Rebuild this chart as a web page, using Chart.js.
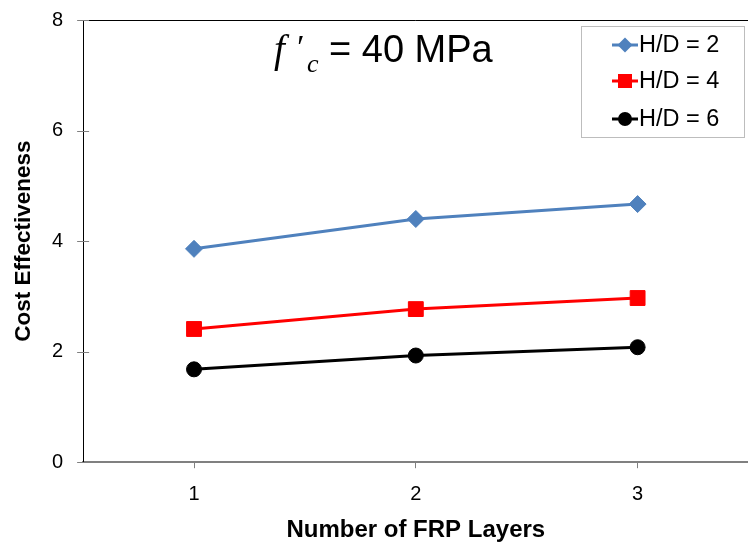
<!DOCTYPE html>
<html><head><meta charset="utf-8">
<script src="https://cdn.jsdelivr.net/npm/chart.js@4/dist/chart.umd.min.js"></script>
<style>
html,body{margin:0;padding:0;overflow:hidden;background:#fff;width:748px;height:542px}
#wrap{position:relative;width:760px;height:542px}
canvas{display:block}
</style></head>
<body><div id="wrap"><canvas id="c" width="760" height="542"></canvas></div>
<script>
const layers = ['1', '2', '3'];
const hd2 = [3.86, 4.40, 4.67];
const hd4 = [2.41, 2.77, 2.97];
const hd6 = [1.68, 1.93, 2.08];
const seriesLabels = ['H/D = 2', 'H/D = 4', 'H/D = 6'];
const yMin = 0, yMax = 8, yStep = 2;

const FONT = "'Liberation Sans', Arial, sans-serif";

const decor = {
  id: 'decor',
  afterDraw(chart) {
    const ctx = chart.ctx, a = chart.chartArea, ys = chart.scales.y;
    ctx.save();
    ctx.strokeStyle = '#000'; ctx.lineWidth = 1;
    ctx.beginPath(); ctx.moveTo(a.left, a.top + 0.5); ctx.lineTo(a.right, a.top + 0.5); ctx.stroke();
    // y tick marks crossing the axis
    ctx.strokeStyle = '#808080';
    ys.ticks.forEach(t => {
      const py = Math.round(ys.getPixelForValue(t.value)) + 0.5;
      ctx.beginPath(); ctx.moveTo(a.left - 6, py); ctx.lineTo(a.left + 6, py); ctx.stroke();
    });
    ctx.fillStyle = '#000';
    ctx.textBaseline = 'alphabetic'; ctx.textAlign = 'left';
    ctx.font = "italic 39px 'Liberation Serif', serif";
    ctx.fillText('f', 274, 62);
    ctx.font = "italic 34px 'Liberation Serif', serif";
    ctx.fillText('\u2032', 295, 58);
    ctx.font = "italic 26px 'Liberation Serif', serif";
    ctx.fillText('c', 307, 72);
    ctx.font = "38px " + FONT;
    ctx.fillText('= 40 MPa', 329, 62);
    const bx = 581, by = 26, bw = 163, bh = 111;
    ctx.fillStyle = '#fff'; ctx.fillRect(bx, by, bw, bh);
    ctx.strokeStyle = '#bdbdbd'; ctx.lineWidth = 1;
    ctx.strokeRect(bx + 0.5, by + 0.5, bw, bh);
    const rows = [45, 81, 119];
    chart.data.datasets.forEach((ds, i) => {
      const y = rows[i], c = ds.borderColor;
      ctx.strokeStyle = c; ctx.lineWidth = 3;
      ctx.beginPath(); ctx.moveTo(612, y); ctx.lineTo(638, y); ctx.stroke();
      ctx.fillStyle = c;
      const cx = 625;
      ctx.beginPath();
      if (ds.pointStyle === 'rectRot') {
        ctx.moveTo(cx - 7.5, y); ctx.lineTo(cx, y - 7.5); ctx.lineTo(cx + 7.5, y); ctx.lineTo(cx, y + 7.5); ctx.closePath();
      } else if (ds.pointStyle === 'rect') {
        ctx.rect(cx - 7, y - 7, 14, 14);
      } else {
        ctx.arc(cx, y, 7, 0, Math.PI * 2);
      }
      ctx.fill();
      ctx.fillStyle = '#000';
      ctx.font = "23.5px " + FONT;
      ctx.textBaseline = 'middle';
      ctx.fillText(ds.label, 639, y + 1);
    });
    ctx.restore();
  }
};

new Chart(document.getElementById('c'), {
  type: 'line',
  data: {
    labels: layers,
    datasets: [
      { label: seriesLabels[0], data: hd2, borderColor: '#4F81BD', backgroundColor: '#4F81BD',
        pointStyle: 'rectRot', pointRadius: 8.5, pointHoverRadius: 8.5, pointBorderWidth: 1, borderWidth: 3 },
      { label: seriesLabels[1], data: hd4, borderColor: '#FF0000', backgroundColor: '#FF0000',
        pointStyle: 'rect', pointRadius: 10.5, pointHoverRadius: 10.5, pointBorderWidth: 1, borderWidth: 3 },
      { label: seriesLabels[2], data: hd6, borderColor: '#000000', backgroundColor: '#000000',
        pointStyle: 'circle', pointRadius: 7.5, pointHoverRadius: 7.5, pointBorderWidth: 1, borderWidth: 3 }
    ]
  },
  options: {
    responsive: false, maintainAspectRatio: false, animation: false, devicePixelRatio: 1,
    layout: { padding: { left: 10, top: 8, right: 2, bottom: 0 } },
    plugins: { legend: { display: false }, tooltip: { enabled: false } },
    scales: {
      x: {
        type: 'category', offset: true,
        grid: { offset: false, drawOnChartArea: false, drawTicks: true, tickLength: 6, color: '#808080' },
        border: { color: '#808080', width: 2 },
        ticks: { color: '#000', font: { family: FONT, size: 20 }, padding: 14 },
        title: { display: true, text: 'Number of FRP Layers', color: '#000',
          font: { family: FONT, size: 24, weight: 'bold' }, padding: { top: -4, bottom: -3 } }
      },
      y: {
        min: yMin, max: yMax,
        grid: { drawOnChartArea: false, drawTicks: true, tickLength: 12, tickColor: 'rgba(0,0,0,0)' },
        border: { color: '#000', width: 1 },
        ticks: { stepSize: yStep, color: '#000', font: { family: FONT, size: 20 }, padding: 8 },
        title: { display: true, text: 'Cost Effectiveness', color: '#000',
          font: { family: FONT, size: 22.5, weight: 'bold' }, padding: { top: 0, bottom: 7 } }
      }
    }
  },
  plugins: [decor]
});
</script>
</body></html>
